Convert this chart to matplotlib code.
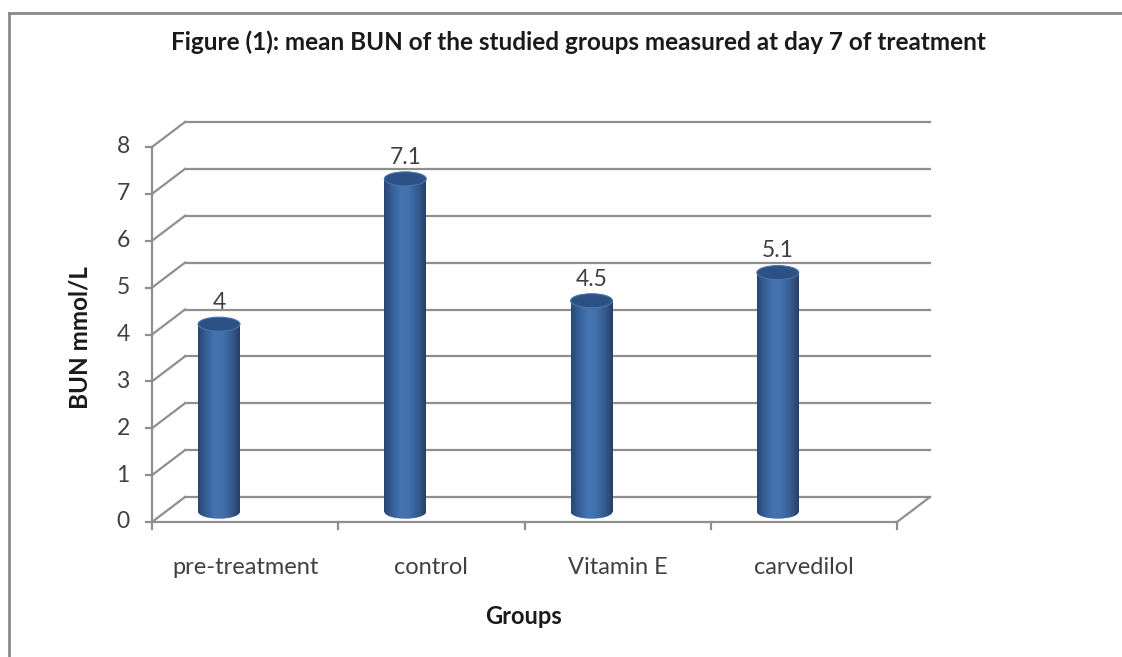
import numpy as np
import matplotlib
matplotlib.use("Agg")
import matplotlib.pyplot as plt
from matplotlib.patches import Ellipse
from matplotlib.lines import Line2D
from matplotlib.colors import LinearSegmentedColormap

# chart data
groups = ["pre-treatment", "control", "Vitamin E", "carvedilol"]
bun_values = [4, 7.1, 4.5, 5.1]
y_ticks = [0, 1, 2, 3, 4, 5, 6, 7, 8]

title = "Figure (1): mean BUN of the studied groups measured at day 7 of treatment"
x_title = "Groups"
y_title = "BUN mmol/L"

plt.rcParams['font.family'] = ['Lato', 'DejaVu Sans']

W, H = 1122, 657
fig = plt.figure(figsize=(W / 100, H / 100), dpi=100)

# front axis box in pixels: x 152..897, y 522 (0) .. 147 (8)
ax = fig.add_axes([152 / W, (H - 522) / H, 745 / W, 375 / H])
ax.set_xlim(0, 4)
ax.set_ylim(0, 8)
ax.axis("off")

grid_c = "#8f8f8f"
text_c = "#404040"
dx, dy = 33 / 186.25, 25 / 46.875   # depth offset of the back wall

# back wall gridlines and left wall diagonals
for k in y_ticks:
    ax.plot([dx, 4 + dx], [k + dy, k + dy], color=grid_c, lw=1.6, clip_on=False, zorder=1)
    ax.plot([0, dx], [k, k + dy], color=grid_c, lw=1.6, clip_on=False, zorder=1)
    ax.plot([-0.03, 0], [k, k], color=grid_c, lw=1.6, clip_on=False, zorder=1)
    ax.text(-0.12, k, str(k), ha="right", va="center", fontsize=16.5, color=text_c)

# front axis lines
ax.plot([0, 0], [0, 8], color=grid_c, lw=1.6, clip_on=False, zorder=1)
ax.plot([0, 4], [0, 0], color=grid_c, lw=1.6, clip_on=False, zorder=1)
ax.plot([4, 4 + dx], [0, dy], color=grid_c, lw=1.6, clip_on=False, zorder=1)
for i in range(len(groups) + 1):
    ax.plot([i, i], [0, -0.15], color=grid_c, lw=1.6, clip_on=False, zorder=1)

for i, g in enumerate(groups):
    ax.text(i + 0.5, -0.97, g, ha="center", va="center", fontsize=17, color=text_c)

# cylinders
cmap = LinearSegmentedColormap.from_list(
    "cyl", ["#284674", "#36609a", "#4574b0", "#4170ab", "#365c92", "#263f68"])
grad = np.linspace(0, 1, 200).reshape(1, -1)
bw = 0.225
shift = -0.14
base = 0.22
eh = 0.30
centers = np.arange(len(groups)) + 0.5 + shift
bars = ax.bar(centers, bun_values, width=bw, bottom=base, color="none",
              edgecolor="none", zorder=3)
for c, v, b in zip(centers, bun_values, bars):
    bottom_ell = Ellipse((c, base), bw, eh, facecolor="none", edgecolor="none")
    ax.add_patch(bottom_ell)
    for clip in (b, bottom_ell):
        im = ax.imshow(grad, cmap=cmap, extent=[c - bw / 2, c + bw / 2, base - eh, base + v],
                       aspect="auto", zorder=3, interpolation="bilinear")
        im.set_clip_path(clip)
    top = Ellipse((c, base + v), bw, eh, facecolor="#2d5186", edgecolor="#4a74ac",
                  lw=0.8, zorder=4)
    ax.add_patch(top)
    ax.text(c, base + v + 0.24, f"{v:g}", ha="center", va="bottom", fontsize=16.5,
            color=text_c, zorder=5)

ax.set_xlim(0, 4)
ax.set_ylim(0, 8)

fig.text(578 / W, 1 - 42 / H, title, ha="center", va="center", fontsize=17.5,
         fontweight="bold", color="#1a1a1a")
fig.text(80 / W, 1 - 338 / H, y_title, ha="center", va="center", rotation=90,
         fontsize=17.5, fontweight="bold", color="#1a1a1a")
fig.text(523 / W, 1 - 617 / H, x_title, ha="center", va="center", fontsize=17,
         fontweight="bold", color="#1a1a1a")

# chart area border (top and left edges visible)
fig.add_artist(Line2D([9 / W, 1.0], [1 - 13 / H, 1 - 13 / H], color="#8a8a8a", lw=2))
fig.add_artist(Line2D([9 / W, 9 / W], [0, 1 - 13 / H], color="#8a8a8a", lw=2))

fig.savefig("out.png", dpi=100)
